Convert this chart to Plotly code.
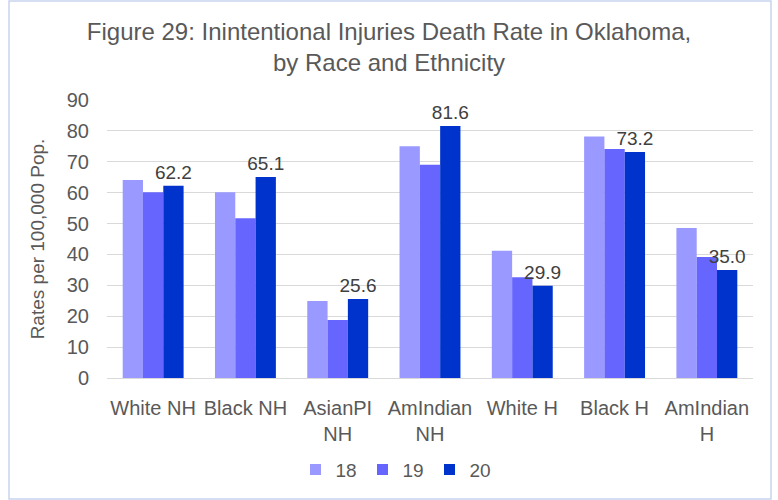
import plotly.graph_objects as go

categories = ["White NH", "Black NH", "AsianPI<br>NH", "AmIndian<br>NH", "White H", "Black H", "AmIndian<br>H"]
series_names = ["18", "19", "20"]
v18 = [64.1, 60.1, 24.9, 75.0, 41.2, 78.2, 48.6]
v19 = [60.1, 51.7, 18.8, 69.0, 32.6, 74.1, 39.2]
v20 = [62.2, 65.1, 25.6, 81.6, 29.9, 73.2, 35.0]
colors = ["#9999FF", "#6666FF", "#0033CC"]

FONT = "Liberation Sans"
GREY = "#595959"
FS = 20

fig = go.Figure()
for name, vals, col in zip(series_names, [v18, v19, v20], colors):
    fig.add_trace(go.Bar(
        name=name, x=categories, y=vals, marker_color=col,
        marker_line_width=0, showlegend=False,
        text=[f"{v:.1f}" for v in vals] if name == "20" else None,
        textposition="outside" if name == "20" else "none",
        constraintext="none",
        textfont=dict(family=FONT, size=19, color="#404040"),
        cliponaxis=False,
    ))
# legend entries with small square swatches
for name, col in zip(series_names, colors):
    fig.add_trace(go.Scatter(
        name=name, x=[None], y=[None], mode="markers",
        marker=dict(symbol="square", size=11, color=col), showlegend=True,
    ))

fig.update_layout(
    width=778, height=500,
    barmode="group", bargap=0.34, bargroupgap=0,
    paper_bgcolor="white", plot_bgcolor="white",
    margin=dict(l=107, r=25, t=100, b=122, autoexpand=False),
    title=dict(text="Figure 29: Inintentional Injuries Death Rate in Oklahoma,<br>by Race and Ethnicity",
               x=0.5, xanchor="center", y=0.921, yanchor="top",
               font=dict(family=FONT, size=24, color=GREY)),
    font=dict(family=FONT, size=FS, color=GREY),
    yaxis=dict(range=[0, 90], dtick=10, showgrid=True, gridcolor="#D9D9D9", gridwidth=1,
               zeroline=True, zerolinecolor="#D9D9D9", zerolinewidth=1, automargin=False,
               tickfont=dict(family=FONT, size=FS, color=GREY), ticks="", ticklen=0,
               ticklabelstandoff=17,
               title=dict(text="Rates per 100,000 Pop.", font=dict(family=FONT, size=19, color=GREY), standoff=17)),
    xaxis=dict(showgrid=False, ticks="", tickfont=dict(family=FONT, size=FS, color=GREY), showline=False,
               automargin=False, ticklabelstandoff=16),
    legend=dict(orientation="h", x=(396 - 107) / 646, xanchor="center", y=-0.33, yanchor="middle",
                font=dict(family=FONT, size=19, color=GREY), traceorder="normal",
                entrywidth=22, entrywidthmode="pixels", itemwidth=30),
)
fig.add_shape(type="rect", xref="paper", yref="paper",
              x0=(9 - 107) / 646, x1=(771 - 107) / 646, y0=(378 - 499) / 278, y1=(378 - 1) / 278,
              line=dict(color="#C9D3F0", width=1.5), fillcolor="rgba(0,0,0,0)", layer="below")

fig.write_html("out.html", post_script="document.body.style.margin='0';",
               config={"displayModeBar": False})
